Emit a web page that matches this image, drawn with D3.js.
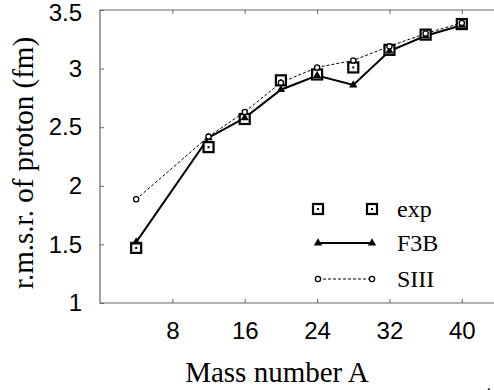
<!DOCTYPE html>
<html>
<head>
<meta charset="utf-8">
<script src="https://cdn.jsdelivr.net/npm/d3@7"></script>
<style>
  body { margin: 0; background: #fff; }
  svg { display: block; }
  .serif { font-family: "Liberation Serif", "DejaVu Serif", "Times New Roman", Times, serif; }
  .sans { font-family: "Liberation Sans", Arial, Helvetica, sans-serif; }
</style>
</head>
<body>
<div id="chart"></div>
<script>
// mass numbers A
const massNumbers = [4, 12, 16, 20, 24, 28, 32, 36, 40];
// proton r.m.s. radii (fm)
const expValues  = [1.47, 2.33, 2.57, 2.90, 2.95, 3.01, 3.16, 3.29, 3.38];
const f3bValues  = [1.52, 2.41, 2.58, 2.82, 2.94, 2.86, 3.15, 3.28, 3.37];
const siiiValues = [1.885, 2.42, 2.63, 2.88, 3.01, 3.07, 3.19, 3.30, 3.39];
const xTicks = [8, 16, 24, 32, 40];
const yTicks = [1, 1.5, 2, 2.5, 3, 3.5];

const W = 494, H = 390;
const margin = { top: 10, right: -4, bottom: 87, left: 100 };
const width = W - margin.left - margin.right,
      height = H - margin.top - margin.bottom;

const svg = d3.select("#chart").append("svg")
    .attr("width", W)
    .attr("height", H);

const g = svg.append("g")
    .attr("transform", `translate(${margin.left},${margin.top})`);

const x = d3.scaleLinear().domain([0, 44]).range([0, width]);
const y = d3.scaleLinear().domain([1, 3.5]).range([height, 0]);

const frameColor = "#666";

// axes with inward ticks
const xAxis = g.append("g")
    .attr("transform", `translate(0,${height})`)
    .call(d3.axisBottom(x).tickValues(xTicks).tickSize(-4).tickPadding(19).tickFormat(d3.format("d")));
const xTop = g.append("g")
    .call(d3.axisTop(x).tickValues(xTicks).tickSize(-4).tickFormat(""));
const yAxis = g.append("g")
    .call(d3.axisLeft(y).tickValues(yTicks).tickSize(-4).tickPadding(18).tickFormat(d => d));

[xAxis, xTop, yAxis].forEach(a => {
    a.attr("font-family", null).attr("font-size", null);
    a.select(".domain").remove();
    a.selectAll("line").attr("stroke", frameColor);
    a.selectAll("text")
        .attr("class", "sans")
        .attr("fill", "#000")
        .style("font-size", "24px");
});
// top label sits a little low so it stays inside the picture
yAxis.selectAll(".tick").filter(d => d === 3.5).select("text").attr("dy", "0.45em");

// frame (right side is outside the picture)
g.append("path")
    .attr("d", `M${width},0H0V${height}H${width}`)
    .attr("fill", "none")
    .attr("stroke", frameColor)
    .attr("stroke-width", 1.2);

const line = d3.line().x((d, i) => x(massNumbers[i])).y(d => y(d));

// SIII: dashed, small open circles
g.append("path")
    .datum(siiiValues)
    .attr("d", line)
    .attr("fill", "none")
    .attr("stroke", "#000")
    .attr("stroke-width", 1)
    .attr("stroke-dasharray", "3,2");

// F3B: solid, filled triangles
g.append("path")
    .datum(f3bValues)
    .attr("d", line)
    .attr("fill", "none")
    .attr("stroke", "#000")
    .attr("stroke-width", 2);

const tri = d3.symbol().type(d3.symbolTriangle).size(30);

function drawSquare(sel, cx, cy) {
    sel.append("rect")
        .attr("x", cx - 5).attr("y", cy - 5)
        .attr("width", 10).attr("height", 10)
        .attr("fill", "#fff")
        .attr("stroke", "#000")
        .attr("stroke-width", 2.2);
    sel.append("rect")
        .attr("x", cx - 1).attr("y", cy - 1)
        .attr("width", 2).attr("height", 2)
        .attr("fill", "#000");
}
function drawCircle(sel, cx, cy) {
    sel.append("circle")
        .attr("cx", cx).attr("cy", cy).attr("r", 2.6)
        .attr("fill", "#fff")
        .attr("stroke", "#000")
        .attr("stroke-width", 1.3);
}
function drawTriangle(sel, cx, cy) {
    sel.append("path")
        .attr("d", tri)
        .attr("transform", `translate(${cx},${cy})`)
        .attr("fill", "#000");
}

const marks = g.append("g");
expValues.forEach((v, i) => drawSquare(marks, x(massNumbers[i]), y(v)));
f3bValues.forEach((v, i) => drawTriangle(marks, x(massNumbers[i]), y(v)));
siiiValues.forEach((v, i) => drawCircle(marks, x(massNumbers[i]), y(v)));

// legend
const legend = svg.append("g");
const lx0 = 318, lx1 = 372, ltx = 397;
const legendRows = [
    { label: "exp", y: 209 },
    { label: "F3B", y: 243 },
    { label: "SIII", y: 279 }
];
drawSquare(legend, lx0, legendRows[0].y);
drawSquare(legend, lx1, legendRows[0].y);
legend.append("line")
    .attr("x1", lx0).attr("x2", lx1)
    .attr("y1", legendRows[1].y).attr("y2", legendRows[1].y)
    .attr("stroke", "#000").attr("stroke-width", 2);
drawTriangle(legend, lx0, legendRows[1].y);
drawTriangle(legend, lx1, legendRows[1].y);
legend.append("line")
    .attr("x1", lx0).attr("x2", lx1)
    .attr("y1", legendRows[2].y).attr("y2", legendRows[2].y)
    .attr("stroke", "#000").attr("stroke-width", 1)
    .attr("stroke-dasharray", "3,2");
drawCircle(legend, lx0, legendRows[2].y);
drawCircle(legend, lx1, legendRows[2].y);
legend.selectAll("text.lbl")
    .data(legendRows)
    .enter().append("text")
    .attr("class", "serif")
    .attr("x", ltx)
    .attr("y", d => d.y)
    .attr("dy", "0.35em")
    .style("font-size", "24px")
    .text(d => d.label);

// axis titles
svg.append("text")
    .attr("class", "serif")
    .attr("x", 277)
    .attr("y", 382)
    .attr("text-anchor", "middle")
    .style("font-size", "29px")
    .text("Mass number A");

svg.append("text")
    .attr("class", "serif")
    .attr("transform", "rotate(-90)")
    .attr("x", -163)
    .attr("y", 33)
    .attr("text-anchor", "middle")
    .style("font-size", "29px")
    .text("r.m.s.r. of proton (fm)");

// page number fragment at the bottom edge
svg.append("text")
    .attr("class", "serif")
    .attr("x", 484)
    .attr("y", 398)
    .style("font-size", "14px")
    .text("4");
</script>
</body>
</html>
